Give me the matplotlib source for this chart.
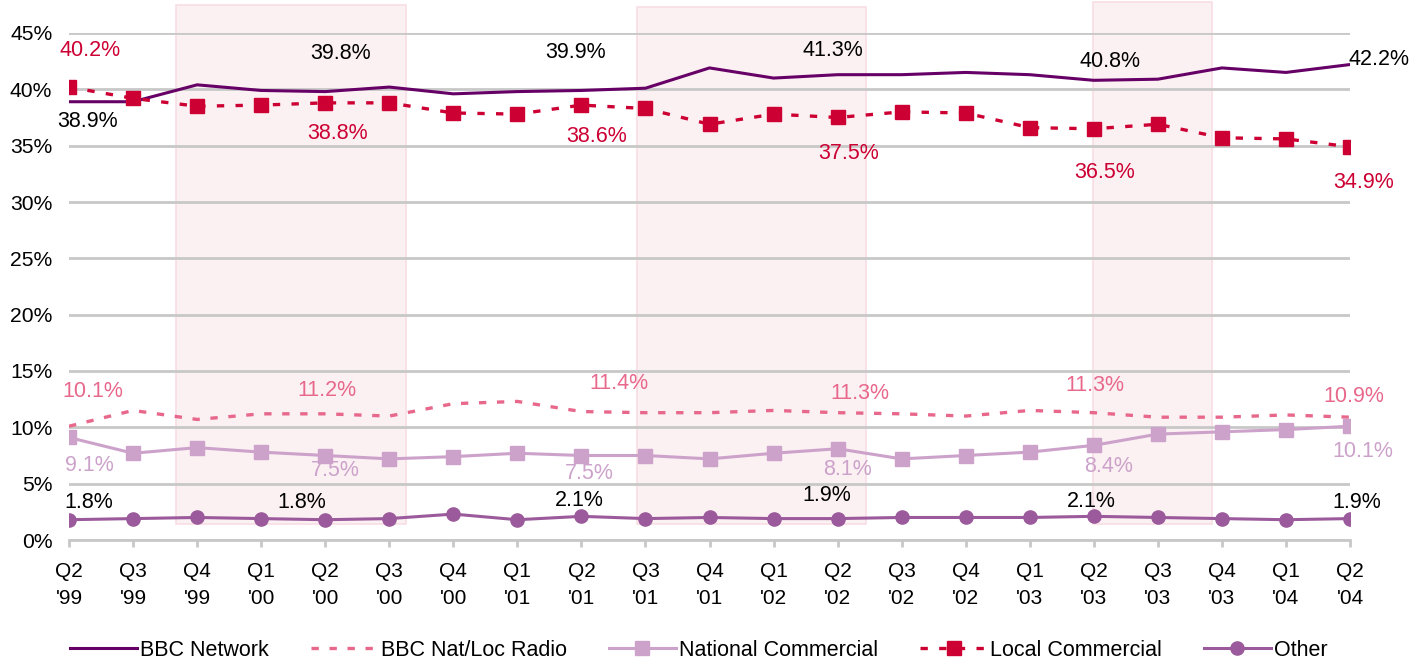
import numpy as np
import matplotlib.pyplot as plt
from matplotlib.patches import Rectangle

plt.rcParams['font.family'] = ['Liberation Sans', 'DejaVu Sans']

quarters = ["Q2\n'99", "Q3\n'99", "Q4\n'99", "Q1\n'00", "Q2\n'00", "Q3\n'00", "Q4\n'00",
            "Q1\n'01", "Q2\n'01", "Q3\n'01", "Q4\n'01", "Q1\n'02", "Q2\n'02", "Q3\n'02",
            "Q4\n'02", "Q1\n'03", "Q2\n'03", "Q3\n'03", "Q4\n'03", "Q1\n'04", "Q2\n'04"]

bbc_network = [38.9, 38.9, 40.4, 39.9, 39.8, 40.2, 39.6, 39.8, 39.9, 40.1, 41.9,
               41.0, 41.3, 41.3, 41.5, 41.3, 40.8, 40.9, 41.9, 41.5, 42.2]
bbc_natloc = [10.1, 11.5, 10.7, 11.2, 11.2, 11.0, 12.1, 12.3, 11.4, 11.3, 11.3,
              11.5, 11.3, 11.2, 11.0, 11.5, 11.3, 10.9, 10.9, 11.1, 10.9]
national_com = [9.1, 7.7, 8.2, 7.8, 7.5, 7.2, 7.4, 7.7, 7.5, 7.5, 7.2,
                7.7, 8.1, 7.2, 7.5, 7.8, 8.4, 9.4, 9.6, 9.8, 10.1]
local_com = [40.2, 39.2, 38.5, 38.6, 38.8, 38.8, 37.9, 37.8, 38.6, 38.3, 36.9,
             37.8, 37.5, 38.0, 37.9, 36.6, 36.5, 36.9, 35.7, 35.6, 34.9]
other = [1.8, 1.9, 2.0, 1.9, 1.8, 1.9, 2.3, 1.8, 2.1, 1.9, 2.0,
         1.9, 1.9, 2.0, 2.0, 2.0, 2.1, 2.0, 1.9, 1.8, 1.9]

# quarters that get a value label
label_idx = [0, 4, 8, 12, 16, 20]

# shaded periods (x from, x to, in quarter index units; y top in %)
shade_spans = [(1.67, 5.26, 47.45), (8.87, 12.45, 47.35), (15.99, 17.85, 47.75)]

# label offsets in pixels (dx, dy) for each labelled point
off_network = [(19, -20), (15, 38), (-6, 38), (-5, 24), (16, 19), (29, 5)]
off_natloc = [(24, 35), (2, 23), (38, 28), (22, 19), (1, 27), (4, 21)]
off_national = [(20, -28), (10, -15), (8, -18), (10, -21), (15, -21), (13, -25)]
off_local = [(21, 37), (12, -31), (15, -31), (11, -36), (11, -44), (14, -36)]
off_other = [(20, 17), (-23, 17), (-2, 16), (-11, 23), (-2, 15), (7, 16)]

c_network = '#660066'
c_natloc = '#E8688C'
c_national = '#CCA2CB'
c_local = '#CC0033'
c_other = '#9B5A9B'
grid_c = '#C8C8C8'

fig = plt.figure(figsize=(14.28, 6.66), dpi=100)
ax = fig.add_axes([69/1428, 1 - 540/666, (1350 - 69)/1428, (540 - 33)/666])

x = np.arange(len(quarters))

for x0, x1, top in shade_spans:
    ax.add_patch(Rectangle((x0, 1.42), x1 - x0, top - 1.42, facecolor='#FBF0F2',
                           edgecolor='#F8DEE4', lw=1.2, zorder=0.5, clip_on=False))

ax.plot(x, bbc_network, color=c_network, lw=2.2, label='BBC Network', zorder=3)
ax.plot(x, bbc_natloc, color=c_natloc, lw=2.4, linestyle=(0, (2.2, 3.2)),
        label='BBC Nat/Loc Radio', zorder=3)
ax.plot(x, national_com, color=c_national, lw=2.2, marker='s', markersize=10,
        label='National Commercial', zorder=3)
ax.plot(x, local_com, color=c_local, lw=2.4, linestyle=(0, (2.2, 3.4)), marker='s',
        markersize=10, label='Local Commercial', zorder=3)
ax.plot(x, other, color=c_other, lw=2.2, marker='o', markersize=9.5,
        label='Other', zorder=3)


def add_labels(vals, offsets, color):
    for i, (dx, dy) in zip(label_idx, offsets):
        ax.annotate(f'{vals[i]:.1f}%', (x[i], vals[i]), xytext=(dx, dy),
                    textcoords='offset pixels', ha='center', va='center',
                    fontsize=15.5, color=color, zorder=5, annotation_clip=False)


add_labels(bbc_network, off_network, 'black')
add_labels(bbc_natloc, off_natloc, c_natloc)
add_labels(national_com, off_national, c_national)
add_labels(local_com, off_local, c_local)
add_labels(other, off_other, 'black')

ax.set_xlim(0, 20)
ax.set_ylim(0, 45)
ax.set_yticks(np.arange(0, 46, 5))
ax.set_yticklabels([f'{v}%' for v in range(0, 46, 5)])
ax.set_xticks(x)
ax.set_xticklabels(quarters)
for lbl in ax.get_xticklabels():
    lbl.set_linespacing(1.5)

ax.yaxis.grid(True, color=grid_c, lw=2, zorder=1)
ax.set_axisbelow(True)
for s in ['top', 'right', 'left']:
    ax.spines[s].set_visible(False)
ax.spines['bottom'].set_color(grid_c)
ax.spines['bottom'].set_linewidth(2)
ax.tick_params(axis='y', length=0, pad=12, labelsize=15.2)
ax.tick_params(axis='x', length=5, width=2, color=grid_c, pad=11, labelsize=15)

fig.legend(ncol=5, loc='center', bbox_to_anchor=(0.4895, 0.024), frameon=False,
           fontsize=15.5, handlelength=3.1, handletextpad=0.15, columnspacing=1.95)

fig.savefig('out.png', dpi=100)
